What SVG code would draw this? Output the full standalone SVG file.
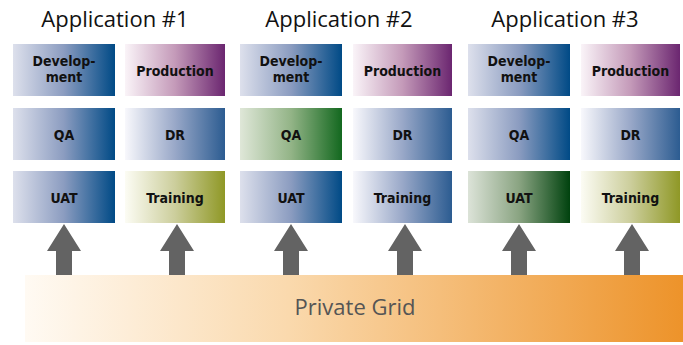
<svg xmlns="http://www.w3.org/2000/svg" width="683" height="345" viewBox="0 0 683 345">
<style>
.title{font-family:"Open Sans","DejaVu Sans",sans-serif;font-size:22px;fill:#111;text-anchor:middle}
.lbl{font-family:"DejaVu Sans Condensed","DejaVu Sans",sans-serif;font-weight:bold;font-size:14px;fill:#111;text-anchor:middle}
.grid{font-family:"Open Sans","DejaVu Sans",sans-serif;font-size:22px;fill:#555;text-anchor:middle}
.arrow{fill:#636363}
</style>
<defs>
<linearGradient id="gBlue" x1="0" x2="1" y1="0" y2="0"><stop offset="0" stop-color="#dde0ec"/><stop offset="0.5" stop-color="#8b9cc0"/><stop offset="1" stop-color="#004a86"/></linearGradient>
<linearGradient id="gLBlue" x1="0" x2="1" y1="0" y2="0"><stop offset="0" stop-color="#f8f8fc"/><stop offset="0.5" stop-color="#99a8c8"/><stop offset="1" stop-color="#2c5c91"/></linearGradient>
<linearGradient id="gPurple" x1="0" x2="1" y1="0" y2="0"><stop offset="0" stop-color="#faf4f8"/><stop offset="0.5" stop-color="#c49ab9"/><stop offset="1" stop-color="#6b2670"/></linearGradient>
<linearGradient id="gOlive" x1="0" x2="1" y1="0" y2="0"><stop offset="0" stop-color="#fcfcf4"/><stop offset="0.5" stop-color="#ccce9c"/><stop offset="1" stop-color="#8f9826"/></linearGradient>
<linearGradient id="gGreen" x1="0" x2="1" y1="0" y2="0"><stop offset="0" stop-color="#dfe7d8"/><stop offset="0.5" stop-color="#93b487"/><stop offset="1" stop-color="#13681f"/></linearGradient>
<linearGradient id="gDGreen" x1="0" x2="1" y1="0" y2="0"><stop offset="0" stop-color="#dce3d8"/><stop offset="0.5" stop-color="#8aa482"/><stop offset="1" stop-color="#00420e"/></linearGradient>
<linearGradient id="gOrange" x1="0" x2="1" y1="0" y2="0"><stop offset="0" stop-color="#fffaf3"/><stop offset="0.4" stop-color="#fad9ad"/><stop offset="1" stop-color="#ed932a"/></linearGradient>
<path id="arr" d="M0,0 L17,27 L8,27 L8,53 L-8,53 L-8,27 L-17,27 Z"/>
</defs>

<g id="titles">
<text class="title" x="115" y="27">Application #1</text>
<text class="title" x="339" y="27">Application #2</text>
<text class="title" x="565" y="27">Application #3</text>
</g>

<g id="app1-dev"><rect x="13" y="44" width="102" height="52" fill="url(#gBlue)"/><text class="lbl" x="64" y="66">Develop-</text><text class="lbl" x="64" y="82">ment</text></g>
<g id="app1-prod"><rect x="125" y="44" width="100" height="52" fill="url(#gPurple)"/><text class="lbl" x="175" y="75.5">Production</text></g>
<g id="app1-qa"><rect x="13" y="108" width="102" height="52" fill="url(#gBlue)"/><text class="lbl" x="64" y="139.5">QA</text></g>
<g id="app1-dr"><rect x="125" y="108" width="100" height="52" fill="url(#gLBlue)"/><text class="lbl" x="175" y="139.5">DR</text></g>
<g id="app1-uat"><rect x="13" y="171" width="102" height="52" fill="url(#gBlue)"/><text class="lbl" x="64" y="202.5">UAT</text></g>
<g id="app1-training"><rect x="125" y="171" width="100" height="52" fill="url(#gOlive)"/><text class="lbl" x="175" y="202.5">Training</text></g>

<g id="app2-dev"><rect x="240" y="44" width="102" height="52" fill="url(#gBlue)"/><text class="lbl" x="291" y="66">Develop-</text><text class="lbl" x="291" y="82">ment</text></g>
<g id="app2-prod"><rect x="353" y="44" width="99" height="52" fill="url(#gPurple)"/><text class="lbl" x="402.5" y="75.5">Production</text></g>
<g id="app2-qa"><rect x="240" y="108" width="102" height="52" fill="url(#gGreen)"/><text class="lbl" x="291" y="139.5">QA</text></g>
<g id="app2-dr"><rect x="353" y="108" width="99" height="52" fill="url(#gLBlue)"/><text class="lbl" x="402.5" y="139.5">DR</text></g>
<g id="app2-uat"><rect x="240" y="171" width="102" height="52" fill="url(#gBlue)"/><text class="lbl" x="291" y="202.5">UAT</text></g>
<g id="app2-training"><rect x="353" y="171" width="99" height="52" fill="url(#gLBlue)"/><text class="lbl" x="402.5" y="202.5">Training</text></g>

<g id="app3-dev"><rect x="468" y="44" width="102" height="52" fill="url(#gBlue)"/><text class="lbl" x="519" y="66">Develop-</text><text class="lbl" x="519" y="82">ment</text></g>
<g id="app3-prod"><rect x="581" y="44" width="99" height="52" fill="url(#gPurple)"/><text class="lbl" x="630.5" y="75.5">Production</text></g>
<g id="app3-qa"><rect x="468" y="108" width="102" height="52" fill="url(#gBlue)"/><text class="lbl" x="519" y="139.5">QA</text></g>
<g id="app3-dr"><rect x="581" y="108" width="99" height="52" fill="url(#gLBlue)"/><text class="lbl" x="630.5" y="139.5">DR</text></g>
<g id="app3-uat"><rect x="468" y="171" width="102" height="52" fill="url(#gDGreen)"/><text class="lbl" x="519" y="202.5">UAT</text></g>
<g id="app3-training"><rect x="581" y="171" width="99" height="52" fill="url(#gOlive)"/><text class="lbl" x="630.5" y="202.5">Training</text></g>

<g id="connectors">
<use href="#arr" class="arrow" x="64" y="224"/>
<use href="#arr" class="arrow" x="177" y="224"/>
<use href="#arr" class="arrow" x="291" y="224"/>
<use href="#arr" class="arrow" x="405" y="224"/>
<use href="#arr" class="arrow" x="519" y="224"/>
<use href="#arr" class="arrow" x="632" y="224"/>
</g>

<g id="private-grid">
<rect x="25" y="275" width="658" height="67" fill="url(#gOrange)"/>
<text class="grid" x="355" y="315">Private Grid</text>
</g>
</svg>
